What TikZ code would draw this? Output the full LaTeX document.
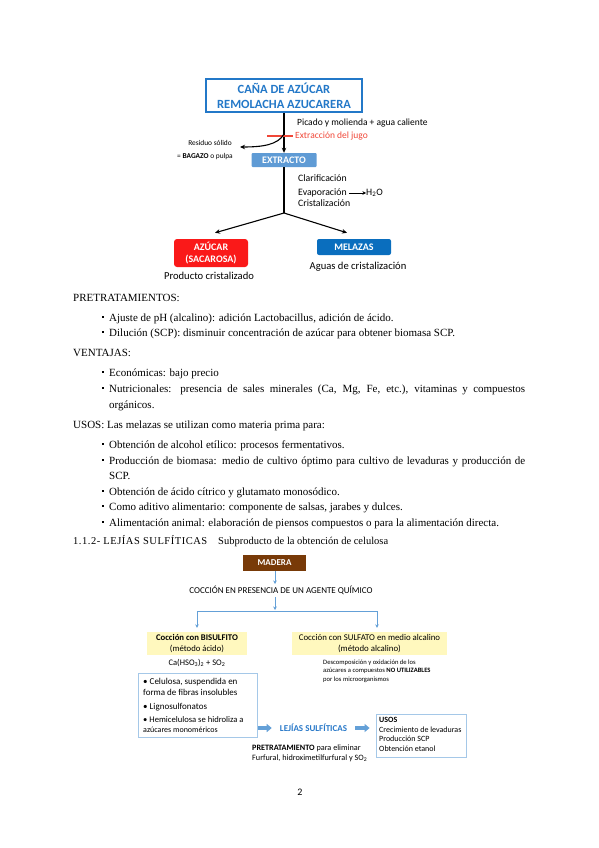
\documentclass[tikz,border=0pt]{standalone}
\usepackage{fontspec}
\setmainfont{Liberation Serif}
\newfontfamily\calib{Carlito}
\newfontfamily\headfont[LetterSpace=5]{Liberation Serif}
\usetikzlibrary{arrows.meta,calc}
\definecolor{topblue}{RGB}{35,120,200}
\definecolor{extblue}{RGB}{95,155,213}
\definecolor{melblue}{RGB}{10,110,190}
\definecolor{azred}{RGB}{250,25,25}
\definecolor{jugored}{RGB}{240,70,55}
\definecolor{brown}{RGB}{120,58,8}
\definecolor{lblue}{RGB}{100,160,215}
\definecolor{boxblue}{RGB}{165,200,232}
\definecolor{yell}{RGB}{255,248,190}
\definecolor{lejblue}{RGB}{40,120,200}
\tikzset{
  fs/.style={font={\calib\fontsize{#1}{#1}\selectfont}},
  fsb/.style={font={\calib\bfseries\fontsize{#1}{#1}\selectfont}},
  body/.style={anchor=base west,inner sep=0pt,font=\fontsize{11}{13}\selectfont},
  bul/.style={fill=black,minimum size=2.6pt,inner sep=0pt},
  blk/.style={-{Stealth[length=5pt,width=4.5pt]},line width=1.1pt,black},
  barr/.style={-{Stealth[length=3.5pt,width=3.5pt]},line width=0.9pt,lblue},
  blockarr/.style={line width=3.2pt,lblue,-{Triangle[length=5pt,width=8pt]}},
}
\begin{document}
\begin{tikzpicture}[x=1pt,y=-1pt]
\useasboundingbox (0,0) rectangle (599,848);
% ---------- top diagram ----------
\node[draw=topblue,line width=1.7pt,fill=white,text=topblue,align=center,
  minimum width=156pt,minimum height=33pt,inner sep=1pt,fsb=12.5] (cana) at (284,95.5)
  {CAÑA DE AZÚCAR\\[2.5pt]REMOLACHA AZUCARERA};
\node[fill=extblue,rounded corners=1pt,text=white,minimum width=65pt,minimum height=14pt,
  inner sep=0pt,fsb=10] (extr) at (284,160) {EXTRACTO};
\draw[blk] (cana) -- (extr);
\node[anchor=west,inner sep=0pt,fs=9.5] (picado) at (297,123) {Picado y molienda + agua caliente};
\coordinate (rl) at (267,136);
\coordinate (rr) at (293,136);
\draw[jugored,line width=1.1pt] (rl) -- (rr);
\node[anchor=west,inner sep=0pt,fs=9.5,text=jugored] (jugo) at (295,136) {Extracción del jugo};
\coordinate (cs) at (284,134);
\coordinate (ce) at (240,147);
\draw[blk] (cs) .. controls (278,145) and (262,147) .. (ce);
\node[anchor=east,inner sep=0pt,fs=7.4] (res) at (232,143) {Residuo sólido};
\node[anchor=east,inner sep=0pt,fs=7.4] (bagazo) at (233,157) {= \textbf{BAGAZO} o pulpa};
\coordinate (jn) at (284,213);
\draw[line width=1.1pt] (extr) -- (jn);
\node[anchor=west,inner sep=0pt,fs=9.8] (clar) at (298,178) {Clarificación};
\node[anchor=west,inner sep=0pt,fs=9.8] (evap) at (298,193) {Evaporación};
\node[anchor=west,inner sep=0pt,fs=9.8] (h2o) at (366,193) {H\textsubscript{2}O};
\draw[-{Stealth[length=3.5pt,width=3.5pt]},line width=0.8pt,shorten <=2pt] (evap) -- (h2o);
\node[anchor=west,inner sep=0pt,fs=9.8] (crist) at (298,203) {Cristalización};
\node[fill=azred,rounded corners=3pt,text=white,minimum width=74pt,minimum height=28pt,align=center,
  inner sep=0pt,fsb=10] (azucar) at (211,253) {AZÚCAR\\[2pt](SACAROSA)};
\node[fill=melblue,rounded corners=2pt,text=white,minimum width=74pt,minimum height=16pt,
  inner sep=0pt,fsb=10] (melazas) at (354,247) {MELAZAS};
\draw[blk] (jn) -- ($(azucar.north)+(4,-6)$);
\draw[blk] (jn) -- ($(melazas.north)+(-7,-6)$);
\node[inner sep=0pt,fs=10.6] (prod) at (209,276) {Producto cristalizado};
\node[inner sep=0pt,fs=10.6] (aguas) at (358,267) {Aguas de cristalización};
% ---------- text ----------
\node[body] (t1) at (73,301) {PRETRATAMIENTOS:};
\node[bul] (b1) at (103,317) {};
\node[body] (t2) at (109,321) {Ajuste de pH (alcalino): adición Lactobacillus, adición de ácido.};
\node[bul] (b2) at (103,332) {};
\node[body] (t3) at (109,336) {Dilución (SCP): disminuir concentración de azúcar para obtener biomasa SCP.};
\node[body] (t4) at (73,356) {VENTAJAS:};
\node[bul] (b3) at (103,372) {};
\node[body] (t5) at (109,376) {Económicas: bajo precio};
\node[bul] (b4) at (103,388) {};
\node[body] (t6) at (109,392) {\makebox[416pt][s]{Nutricionales: presencia de sales minerales (Ca, Mg, Fe, etc.), vitaminas y compuestos}};
\node[body] (t7) at (109,408) {orgánicos.};
\node[body] (t8) at (73,428) {USOS: Las melazas se utilizan como materia prima para:};
\node[bul] (b5) at (103,444) {};
\node[body] (t9) at (109,448) {Obtención de alcohol etílico: procesos fermentativos.};
\node[bul] (b6) at (103,460) {};
\node[body] (t10) at (109,464) {\makebox[416pt][s]{Producción de biomasa: medio de cultivo óptimo para cultivo de levaduras y producción de}};
\node[body] (t11) at (109,479) {SCP.};
\node[bul] (b7) at (103,491) {};
\node[body] (t12) at (109,495) {Obtención de ácido cítrico y glutamato monosódico.};
\node[bul] (b8) at (103,506) {};
\node[body] (t13) at (109,510) {Como aditivo alimentario: componente de salsas, jarabes y dulces.};
\node[bul] (b9) at (103,522) {};
\node[body] (t14) at (109,526) {Alimentación animal: elaboración de piensos compuestos o para la alimentación directa.};
\node[body,font=\headfont\fontsize{10.5}{12}\selectfont] (h1) at (73,544) {1.1.2- LEJÍAS SULFÍTICAS};
\node[body,font=\fontsize{10.5}{12}\selectfont] (h2) at (218,544) {Subproducto de la obtención de celulosa};
% ---------- bottom diagram ----------
\node[fill=brown,text=white,minimum width=63pt,minimum height=16pt,inner sep=0pt,
  fsb=9] (madera) at (274.5,563) {MADERA};
\node[inner sep=0pt,fs=9] (coc) at (281,590) {COCCIÓN EN PRESENCIA DE UN AGENTE QUÍMICO};
\coordinate (m1) at (275,584);
\coordinate (m2) at (275,597);
\coordinate (hl) at (275,610);
\coordinate (hlL) at (197,611);
\coordinate (hlR) at (377,611);
\draw[barr] (madera.south -| m1) -- (m1);
\draw[barr] (m2) -- (hl);
\draw[lblue,line width=0.9pt] (hlL) -- (hlR);
\node[fill=yell,minimum width=100pt,minimum height=23pt,align=center,inner sep=0pt,fs=8.7] (bis)
  at (197,643.5) {\textbf{Cocción con BISULFITO}\\[1.5pt](método ácido)};
\node[fill=yell,minimum width=155pt,minimum height=23pt,align=center,inner sep=0pt,fs=8.8] (sulf)
  at (369.5,643.5) {Cocción con SULFATO en medio alcalino\\[1.5pt](método alcalino)};
\draw[barr,shorten >=4pt] (hlL) -- (bis.north);
\draw[barr,shorten >=4pt] (hlR) -- (hlR |- sulf.north);
\node[inner sep=0pt,fs=8.5] (ca) at (197,663) {Ca(HSO\textsubscript{3})\textsubscript{2} + SO\textsubscript{2}};
\node[anchor=north west,align=left,inner sep=0pt,fs=6.6] (desc) at (323,659.5)
  {Descomposición y oxidación de los\\[1.9pt]azúcares a compuestos \textbf{NO UTILIZABLES}\\[1.9pt]por los microorganismos};
\node[draw=boxblue,line width=0.8pt,fill=white,minimum width=119pt,minimum height=64pt,inner sep=0pt] (cel) at (197.5,705) {};
\node[anchor=west,inner sep=0pt,fs=9] (c1) at (143,682) {• Celulosa, suspendida en};
\node[anchor=west,inner sep=0pt,fs=9] (c2) at (143,692.5) {forma de fibras insolubles};
\node[anchor=west,inner sep=0pt,fs=9] (c3) at (143,707) {• Lignosulfonatos};
\node[anchor=west,inner sep=0pt,fs=8.6] (c4) at (143,720) {• Hemicelulosa se hidroliza a};
\node[anchor=west,inner sep=0pt,fs=8] (c5) at (143,730) {azúcares monoméricos};
\node[inner sep=0pt,fsb=9,text=lejblue] (lej) at (313.5,728) {LEJÍAS SULFÍTICAS};
\node[draw=boxblue,line width=0.8pt,fill=white,minimum width=90pt,minimum height=43pt,inner sep=0pt] (usos) at (421,735.5) {};
\node[anchor=north west,align=left,inner sep=0pt,fs=8] (ustx) at (379,717)
  {\textbf{USOS}\\[1.7pt]Crecimiento de levaduras\\[1.7pt]Producción SCP\\[1.7pt]Obtención etanol};
\draw[blockarr,shorten <=1pt,shorten >=8pt] (cel.east |- lej.west) -- (lej.west);
\draw[blockarr,shorten <=8pt,shorten >=6pt] (lej.east) -- (usos.west |- lej.east);
\node[anchor=north west,align=left,inner sep=0pt,fs=8.2] (pre) at (252,745)
  {\textbf{PRETRATAMIENTO} para eliminar\\[1.8pt]Furfural, hidroximetilfurfural y SO\textsubscript{2}};
\node[inner sep=0pt,fs=10] (pg) at (300,792) {2};
\end{tikzpicture}
\end{document}
